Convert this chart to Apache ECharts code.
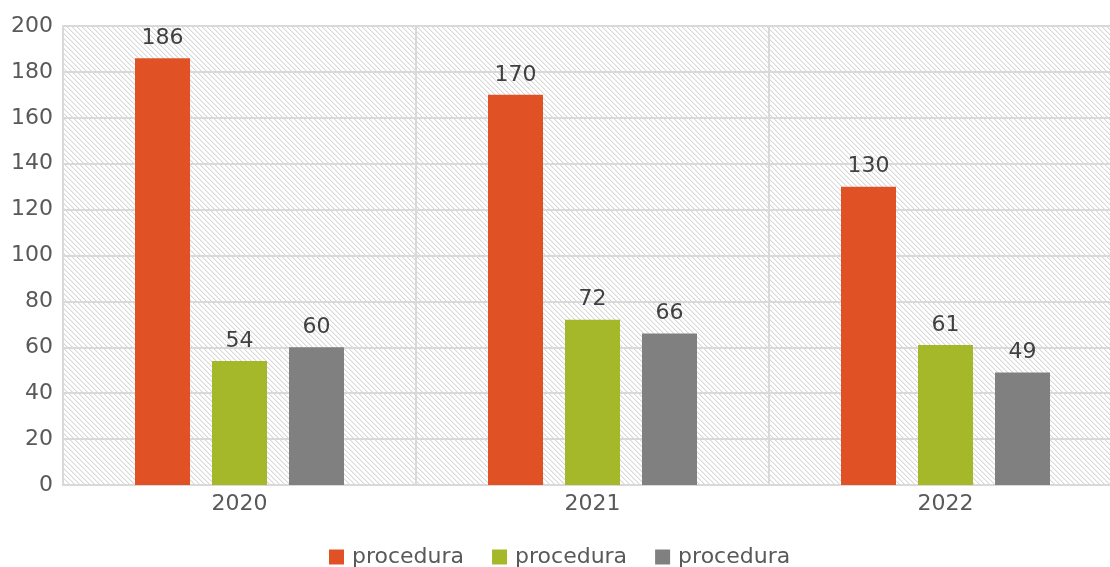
<!DOCTYPE html>
<html><head><meta charset="utf-8">
<script src="https://cdn.jsdelivr.net/npm/echarts@6/dist/echarts.min.js"></script>
<style>html,body{margin:0;padding:0;background:#fff;overflow:hidden;width:1110px;height:567px}#c{width:1122px;height:567px}</style>
</head><body><div id="c"></div>
<script>
const categories = ['2020', '2021', '2022'];
const seriesNames = ['procedura', 'procedura', 'procedura'];
const seriesA = [186, 170, 130];
const seriesB = [54, 72, 61];
const seriesC = [60, 66, 49];
const colors = ['#E05225', '#A5B82A', '#808080'];

const P = 5;
const pc = document.createElement('canvas');
pc.width = P; pc.height = P;
const g = pc.getContext('2d');
g.fillStyle = '#ffffff'; g.fillRect(0, 0, P, P);
g.fillStyle = '#d8d8d8';
for (let i = 0; i < P; i++) g.fillRect(i, i, 1, 1);
g.fillStyle = '#efefef';
for (let i = 0; i < P; i++) g.fillRect((i + 1) % P, i, 1, 1);

const font = 'DejaVu Sans';
const chart = echarts.init(document.getElementById('c'));
const uid = (name, i) => name + '\u200b'.repeat(i);
const mk = (i, data) => ({
  name: uid(seriesNames[i], i), type: 'bar', data, barWidth: 55, barGap: '40%',
  itemStyle: { color: colors[i] },
  label: { show: true, position: 'top', distance: 9, color: '#404040', fontFamily: font, fontSize: 22 }
});
chart.setOption({
  animation: false,
  color: colors,
  grid: { left: 63, top: 26, right: 0, bottom: 82, show: true, backgroundColor: { image: pc, repeat: 'repeat' }, borderWidth: 0 },
  legend: {
    top: 541, left: 324, itemWidth: 15, itemHeight: 15, itemGap: 28, icon: 'rect',
    formatter: n => n.replace(/\u200b/g, ''),
    textStyle: { color: '#595959', fontFamily: font, fontSize: 22, padding: [0, 0, 0, 3] }
  },
  xAxis: {
    type: 'category', data: categories,
    axisLine: { lineStyle: { color: '#d9d9d9', width: 2 } },
    axisTick: { show: false },
    axisLabel: { color: '#595959', fontFamily: font, fontSize: 22, margin: 8 },
    splitLine: { show: true, lineStyle: { color: '#d9d9d9', width: 2 } }
  },
  yAxis: {
    type: 'value', min: 0, max: 200, interval: 20,
    axisLine: { show: true, lineStyle: { color: '#d9d9d9', width: 2 } },
    axisTick: { show: false },
    axisLabel: { color: '#595959', fontFamily: font, fontSize: 22, margin: 10 },
    splitLine: { lineStyle: { color: '#d9d9d9', width: 2 } }
  },
  series: [mk(0, seriesA), mk(1, seriesB), mk(2, seriesC)]
});
</script></body></html>
